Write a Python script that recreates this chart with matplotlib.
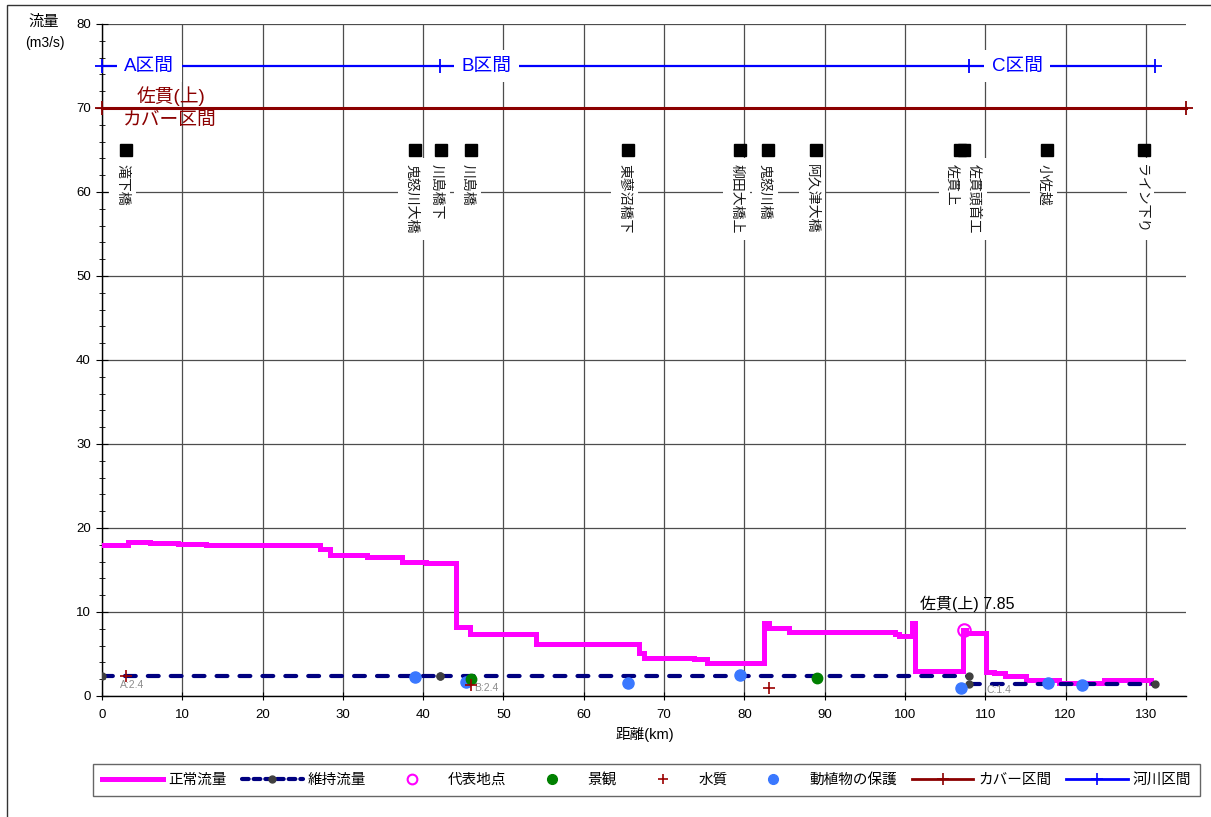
import matplotlib
matplotlib.use("Agg")
import matplotlib.pyplot as plt
import numpy as np
from matplotlib.lines import Line2D
from matplotlib.patches import Rectangle

plt.rcParams['font.family'] = ['Liberation Sans', 'Noto Sans CJK JP']

# --- 正常流量 (step profile along the river) ---
normal_km = [0, 3.3, 6.0, 9.5, 13.0, 27.2, 28.4, 33.0, 37.4, 40.3, 44.1, 45.8,
             54.0, 66.9, 67.5, 73.7, 75.4, 82.4, 83.1, 85.6, 98.7, 99.2, 100.9,
             101.2, 107.2, 107.6, 110.1, 111.1, 112.4, 115.1, 119.2, 124.8,
             130.7, 131.2]
normal_q = [18.0, 18.3, 18.2, 18.1, 18.0, 17.5, 16.8, 16.5, 15.9, 15.8, 8.25,
            7.4, 6.25, 5.1, 4.5, 4.4, 3.9, 8.7, 8.1, 7.65, 7.4, 7.15, 8.65,
            2.95, 7.85, 7.45, 2.9, 2.7, 2.4, 1.9, 1.6, 1.9, 1.5, 1.5]

# --- 河川区間 / 維持流量 ---
section_km = [0, 42.1, 108.0, 131.2]
section_names = ['A区間', 'B区間', 'C区間']
section_label_km = [5.9, 47.9, 114.0]
maint_q = [2.4, 2.4, 1.4]

# --- カバー区間 ---
cover_km = [0, 135.0]
cover_name = '佐貫(上)'

# --- 代表地点 ---
rep_km = 107.3
rep_q = 7.85

# --- 必要流量の検討項目 ---
scenery_km = [46.0, 89.0]
scenery_q = [2.0, 2.2]
quality_km = [3.0, 46.0, 83.1]
quality_q = [2.4, 1.3, 0.9]
bio_km = [39.0, 45.3, 65.5, 79.5, 107.0, 117.8, 122.0]
bio_q = [2.3, 1.7, 1.5, 2.5, 0.9, 1.5, 1.3]

# --- 地点 ---
station_names = ['滝下橋', '鬼怒川大橋', '川島橋下', '川島橋', '東蓼沼橋下', '柳田大橋上',
                 '鬼怒川橋', '阿久津大橋', '佐貫上', '佐貫頭首工', '小佐越', 'ライン下り']
station_km = [3.0, 39.0, 42.2, 46.0, 65.5, 79.5, 83.0, 88.9, 106.8, 107.4, 117.7, 129.8]

W, H = 1211, 817
fig = plt.figure(figsize=(W / 100, H / 100), dpi=100)
ax = fig.add_axes([102 / W, 1 - 696 / H, 1084 / W, 672 / H])

ax.set_xlim(0, 135)
ax.set_ylim(0, 80)
ax.set_xticks(np.arange(0, 131, 10))
ax.set_yticks(np.arange(0, 81, 10))
ax.set_yticks(np.arange(0, 81, 2), minor=True)
ax.grid(True, which='major', color='#4d4d4d', lw=0.9)
ax.set_axisbelow(True)
for s in ['top', 'right']:
    ax.spines[s].set_visible(False)
for s in ['left', 'bottom']:
    ax.spines[s].set_color('black')
    ax.spines[s].set_linewidth(1.0)
ax.tick_params(axis='y', which='major', direction='inout', length=8, labelsize=9.5, pad=4)
ax.tick_params(axis='y', which='minor', direction='inout', length=5)
ax.tick_params(axis='x', which='major', direction='inout', length=6, labelsize=9.5, pad=6)

# 正常流量
ax.plot(normal_km, normal_q, drawstyle='steps-post', color='#FF00FF', lw=3.6,
        solid_joinstyle='miter', zorder=3)

# 維持流量 (one dashed segment per section)
mx, my = [], []
for i in range(3):
    mx += [section_km[i], section_km[i + 1], np.nan]
    my += [maint_q[i], maint_q[i], np.nan]
ax.plot(mx, my, color='#000080', lw=3, dashes=(2.6, 2.9), dash_capstyle='round',
        marker='o', ms=5, mfc='#404040', mec='#404040', zorder=4)
maint_label_km = [3.75, 47.9, 111.7]
maint_label_drop = [1.1, 1.4, 0.7]
for i in range(3):
    ax.text(maint_label_km[i], maint_q[i] - maint_label_drop[i],
            f'{section_names[i][0]}:{maint_q[i]}', fontsize=7.5, color='#8c8c8c',
            ha='center', va='center', zorder=5)

# 検討項目
ax.plot(bio_km, bio_q, 'o', color='#3a78ff', ms=8, zorder=5)
ax.plot(scenery_km, scenery_q, 'o', color='#008000', ms=7.5, zorder=6)
ax.plot(quality_km, quality_q, '+', color='#9b0000', ms=8, mew=1.2, zorder=7)

# 代表地点
ax.plot([rep_km], [rep_q], 'o', mfc='none', mec='#FF00FF', ms=9, mew=1.5, zorder=8)
ax.annotate(f'{cover_name} {rep_q}', (rep_km, rep_q), xytext=(3, 13),
            textcoords='offset points', ha='center', va='bottom', fontsize=11.5,
            color='black', zorder=8)

# 河川区間
ax.plot(section_km, [75] * 4, color='#0000FF', lw=1.6, marker='+', ms=10, mew=1.3,
        clip_on=False, zorder=4)
for name, xk in zip(section_names, section_label_km):
    ax.text(xk, 75, name, color='#0000FF', fontsize=13.5, ha='center', va='center',
            bbox=dict(boxstyle='square,pad=0.4', fc='white', ec='none'), zorder=5)

# カバー区間
ax.plot(cover_km, [70, 70], color='#8B0000', lw=2.2, marker='+', ms=10, mew=1.3,
        clip_on=False, zorder=4)
ax.text(8.6, 71.4, cover_name, color='#8B0000', fontsize=13.5, ha='center', va='center')
ax.text(8.5, 68.5, 'カバー区間', color='#8B0000', fontsize=13.5, ha='center', va='center')

# 地点
ax.plot(station_km, [65] * len(station_km), 's', color='black', ms=9, zorder=6)
label_shift = {'佐貫上': -0.9, '佐貫頭首工': 1.2}
for name, xk in zip(station_names, station_km):
    ax.text(xk + label_shift.get(name, -0.45), 63.3, name, rotation=-90, fontsize=10,
            ha='center', va='top', color='#1a1a1a',
            bbox=dict(boxstyle='square,pad=0.45', fc='white', ec='none'), zorder=5)

# axis titles
fig.text(44 / W, 1 - 22 / H, '流量', fontsize=11, ha='center', va='center')
fig.text(45 / W, 1 - 43 / H, '(m3/s)', fontsize=10, ha='center', va='center')
fig.text(645 / W, 1 - 734 / H, '距離(km)', fontsize=10.5, ha='center', va='center')

# legend
handles = [
    Line2D([], [], color='#FF00FF', lw=3.6),
    Line2D([], [], color='#000080', lw=3, dashes=(1.6, 1.2), dash_capstyle='round',
           marker='o', ms=5, mfc='#404040', mec='#404040'),
    Line2D([], [], ls='none', marker='o', mfc='none', mec='#FF00FF', ms=7, mew=1.5),
    Line2D([], [], ls='none', marker='o', color='#008000', ms=7),
    Line2D([], [], ls='none', marker='+', color='#9b0000', ms=7, mew=1.2),
    Line2D([], [], ls='none', marker='o', color='#3a78ff', ms=7),
    Line2D([], [], color='#8B0000', lw=2, marker='+', ms=8, mew=1.2),
    Line2D([], [], color='#0000FF', lw=2, marker='+', ms=8, mew=1.2),
]
labels = ['正常流量', '維持流量', '代表地点', '景観', '水質', '動植物の保護', 'カバー区間', '河川区間']
leg = fig.legend(handles, labels, loc='center', ncol=8, mode='expand',
                 bbox_to_anchor=(93 / W, 1 - 808 / H, 1107 / W, 56 / H),
                 fontsize=10.5, handlelength=4.2, handletextpad=0.35,
                 borderaxespad=0, borderpad=0.6, fancybox=False, numpoints=1)
leg.get_frame().set_edgecolor('#404040')
leg.get_frame().set_linewidth(1.0)

# outer frame
fig.patches.append(Rectangle((7 / W, -0.05), 1.2, 1 - 5 / H + 0.05,
                             transform=fig.transFigure, fill=False,
                             ec='#333333', lw=1.0))

fig.savefig('out.png', dpi=100)
